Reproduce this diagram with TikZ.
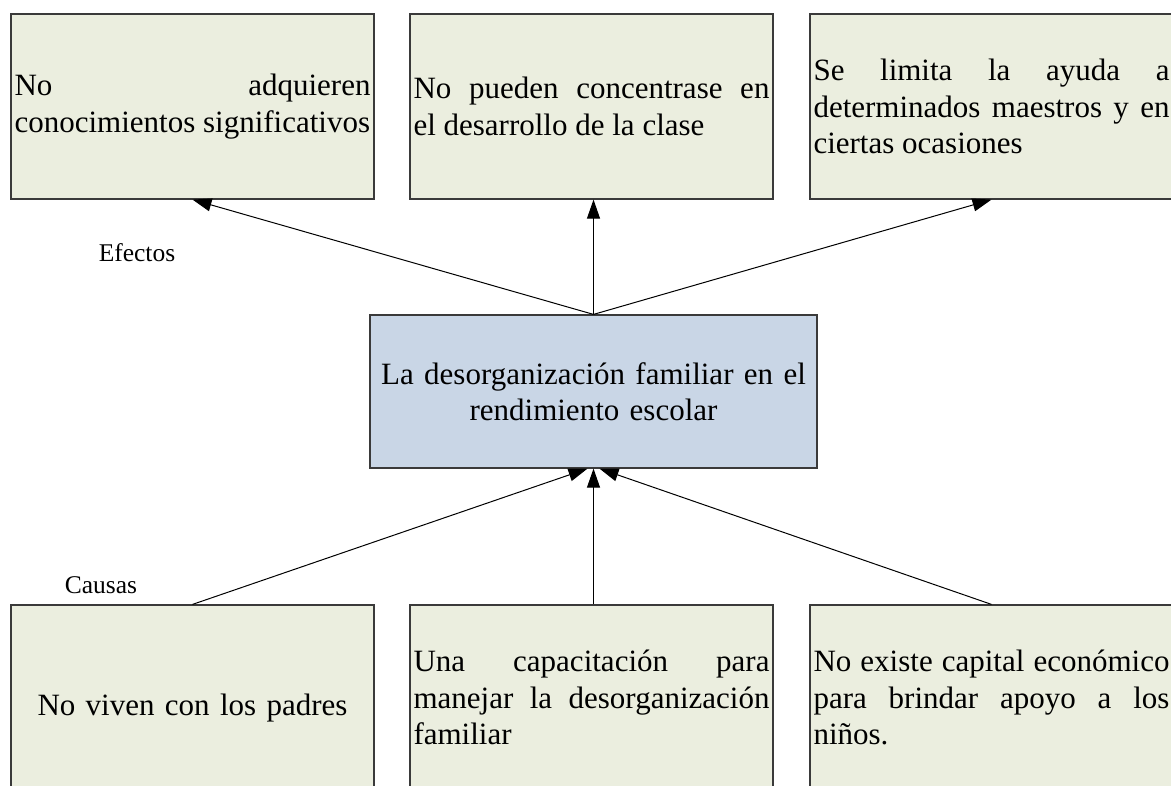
\documentclass[tikz,border=0pt]{standalone}
\usepackage{fontspec}
\setmainfont{Liberation Serif}
\usetikzlibrary{arrows.meta,calc}
\definecolor{boxfill}{HTML}{EBEEDF}
\definecolor{mainfill}{HTML}{C9D6E6}
\definecolor{edgecol}{HTML}{3A3A3A}
\hyphenpenalty=10000
\exhyphenpenalty=10000
\tolerance=10000
\hbadness=10000
\begin{document}
\begin{tikzpicture}[x=0.5pt,y=-0.5pt,
  every node/.style={font=\fontsize{15.5}{18.2}\selectfont},
  sbox/.style={draw=edgecol, line width=0.6pt, fill=boxfill, minimum width=181.5pt, minimum height=92.5pt, text width=178pt, inner xsep=1.75pt, inner ysep=0pt, align=justify},
  cbox/.style={draw=edgecol, line width=0.6pt, fill=mainfill, minimum width=223.5pt, minimum height=76.5pt, text width=220pt, inner xsep=1.75pt, inner ysep=0pt, align=center},
  conn/.style={line width=0.5pt, -{Triangle[length=9.5pt,width=6.5pt]}},
  lbl/.style={font=\fontsize{12.75}{15}\selectfont, inner sep=0pt}]
\useasboundingbox (0,0) rectangle (1171,786);
\clip (0,0) rectangle (1171,786);
\node[sbox] (e1) at (192.5,106.5) {No adquieren\linebreak conocimientos significativos};
\node[sbox] (e2) at (591.5,106.5) {No pueden concentrase en\linebreak el desarrollo de la clase};
\node[sbox] (e3) at (991.5,106.5) {Se limita la ayuda a\linebreak determinados maestros y en\linebreak ciertas ocasiones};
\node[cbox] (c) at (593.5,391.5) {La desorganización familiar en el\\rendimiento escolar};
\node[sbox, align=center] (k1) at (192.5,697.5) {\rule{0pt}{21pt}No viven con los padres};
\node[sbox] (k2) at (591.5,697.5) {Una capacitación para\linebreak manejar la desorganización\linebreak familiar};
\node[sbox] (k3) at (991.5,697.5) {No existe capital económico\linebreak para brindar apoyo a los\linebreak niños.};
\node[lbl] (ef) at (137,253) {Efectos};
\node[lbl] (ca) at (101,585) {Causas};
\coordinate (cl) at ($(c.south)+(-6,0)$);
\coordinate (cr) at ($(c.south)+(6,0)$);
\draw[conn] (c.north) -- (e1.south);
\draw[conn] (c.north) -- (c.north |- e2.south);
\draw[conn] (c.north) -- (e3.south);
\draw[conn] (k1.north) -- (cl);
\draw[conn] (k2.north -| c.south) -- (c.south);
\draw[conn] (k3.north) -- (cr);
\end{tikzpicture}
\end{document}
